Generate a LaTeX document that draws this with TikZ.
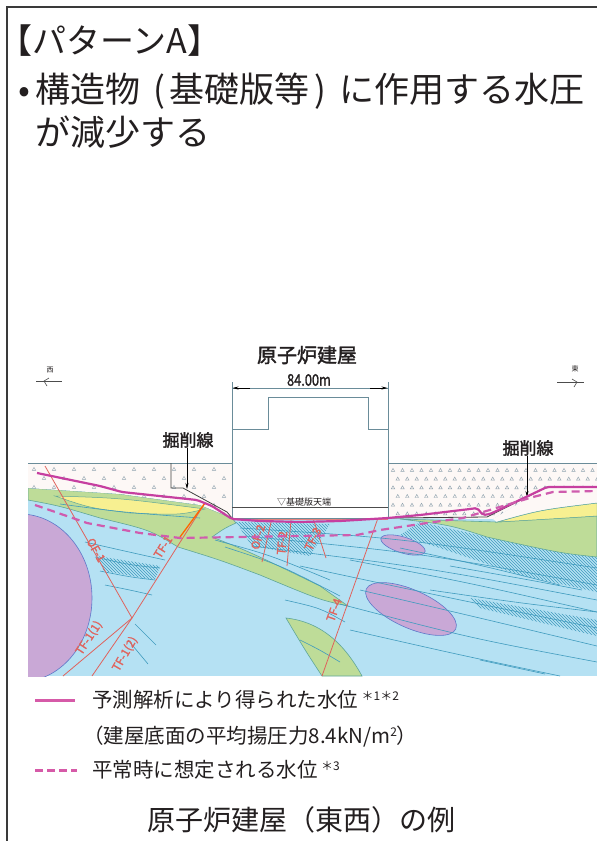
\documentclass[tikz,border=0pt]{standalone}
\usepackage{fontspec}
\usepackage{graphicx}
\setmainfont{Noto Sans CJK JP}
\newfontfamily\jpfont{Noto Sans CJK JP}
\newfontfamily\jpbold{Noto Sans CJK JP}[FakeBold=1.6]
\usetikzlibrary{patterns,arrows.meta}

\definecolor{ink}{HTML}{231F20}
\definecolor{framec}{HTML}{3A3A3A}
\definecolor{bluef}{HTML}{B5E1F3}
\definecolor{greenf}{HTML}{BEDC98}
\definecolor{yellowf}{HTML}{F7F091}
\definecolor{purplef}{HTML}{C9A8D6}
\definecolor{purplee}{HTML}{5E78C9}
\definecolor{fillf}{HTML}{FDF8F6}
\definecolor{tealc}{HTML}{3F9BBE}
\definecolor{layerc}{HTML}{5FA79A}
\definecolor{faultc}{HTML}{E0625C}
\definecolor{waterc}{HTML}{C63FA0}
\definecolor{legc}{HTML}{D65AA8}
\definecolor{bldc}{HTML}{6A8C99}
\definecolor{tric}{HTML}{8FA2AE}

% brackets used in the heading
\newcommand{\lpar}{\makebox[0.85em][r]{(\hspace{0.12em}}}
\newcommand{\rpar}{\makebox[0.85em][l]{\hspace{0.12em})}}

\tikzset{
  tri/.pic={\draw[tric,line width=0.45] (-1.7,1.4) -- (0,-1.6) -- (1.7,1.4) -- cycle;},
  bed/.style={tealc, line width=0.6},
  fault/.style={faultc, line width=0.8},
  flabel/.style={text=faultc, font=\jpbold\fontsize{11.5}{11.5}\selectfont, inner sep=0.5pt},
  water/.style={waterc, line width=2.2, line join=round},
  normalwater/.style={waterc!85, line width=2.2, dash pattern=on 8pt off 5pt},
  bld/.style={bldc, line width=0.8},
  exline/.style={black!75, line width=0.8},
  labeltxt/.style={text=ink, inner sep=0pt},
  legtxt/.style={text=ink, anchor=west, inner sep=0pt, font=\jpfont\fontsize{20.5}{24}\selectfont},
  supr/.style={},
  tip/.style={-{Stealth[length=6pt,width=3pt]}, black, line width=0.6}
}
\newcommand{\sups}[1]{\raisebox{7pt}{\fontsize{12}{12}\selectfont #1}}

\begin{document}
\begin{tikzpicture}[x=1pt,y=-1pt]
\useasboundingbox (0,0) rectangle (597,841);
\fill[white] (0,0) rectangle (597,841);

% outer frame
\draw[framec, line width=1.6] (7,841) -- (7,7) -- (597,7);

% heading
\node[labeltxt, anchor=west, font=\jpfont\fontsize{34}{40}\selectfont] (head) at (12,41)
  {\makebox[0.6em][r]{【}パターンA\makebox[0.6em][l]{】}};
\node[labeltxt, anchor=west, font=\jpfont\fontsize{35}{40}\selectfont] (head2) at (14,91)
  {\makebox[0.6em][c]{•}構造物\lpar 基礎版等\rpar に作用する水圧};
\node[labeltxt, anchor=west, font=\jpfont\fontsize{35}{40}\selectfont] (head3) at (35,132) {が減少する};

% ---------------- cross section ----------------
\begin{scope}
\clip (28,340) rectangle (597,676);

% base rock
\fill[bluef] (28,480) rectangle (597,676);

% hatched bands
\fill[pattern=north west lines, pattern color=tealc] (420,522) -- (487,537) -- (567,553) -- (597,557) -- (597,592) -- (520,575) -- (440,548) -- (400,535) -- cycle;
\fill[pattern=north west lines, pattern color=tealc] (470,598) -- (597,620) -- (597,636) -- (480,608) -- cycle;
\fill[pattern=north west lines, pattern color=tealc] (236,522) -- (330,524) -- (310,556) -- (252,546) -- cycle;
\fill[pattern=north west lines, pattern color=tealc] (97,556) -- (160,566) -- (155,580) -- (104,571) -- cycle;

% purple lenses
\draw[purplee, fill=purplef, line width=0.6] (20,598) ellipse (72 and 84);
\draw[purplee, fill=purplef, line width=0.6, rotate around={-17:(403,545)}] (403,545) ellipse (23 and 8);
\draw[purplee, fill=purplef, line width=0.6, rotate around={-24:(411,609)}] (411,609) ellipse (49 and 19);

% left green layer and the wedge running under the building
\draw[layerc, fill=greenf, line width=0.6] (28,488) -- (120,494) -- (200,505) -- (232,518) -- (236,523)
  .. controls (225,528) .. (212,537) .. controls (250,552) .. (320,586) -- (348,606)
  .. controls (320,600) .. (260,575) .. controls (220,560) .. (178,547)
  .. controls (150,530) .. (100,518) .. controls (60,506) .. (28,500) -- cycle;
% left yellow lens
\draw[layerc, fill=yellowf, line width=0.5] (55,496) .. controls (120,498) .. (205,509)
  .. controls (180,515) .. (130,513) .. controls (90,508) .. (55,496) -- cycle;
% lower green lens
\draw[layerc, fill=greenf, line width=0.6] (286,618) .. controls (322,622) and (345,645) .. (362,676)
  -- (322,676) .. controls (305,650) .. (286,618) -- cycle;
% right green layer
\draw[layerc, fill=greenf, line width=0.6] (400,519) -- (497,522) -- (597,516) -- (597,557)
  .. controls (560,553) .. (487,537) .. controls (450,525) .. (400,519) -- cycle;
% right yellow wedge
\draw[layerc, fill=yellowf, line width=0.5] (497,522) .. controls (540,510) .. (597,503) -- (597,516)
  .. controls (550,519) .. (497,522) -- cycle;

% bedding lines
\draw[bed] (240,528) .. controls (400,538) .. (597,568);
\draw[bed] (245,536) .. controls (420,553) .. (597,585);
\draw[bed] (252,546) .. controls (430,568) .. (597,600);
\draw[bed] (350,560) .. controls (470,583) .. (597,612);
\draw[bed] (300,566) .. controls (450,598) .. (597,628);
\draw[bed] (360,590) .. controls (480,618) .. (597,646);
\draw[bed] (340,604) .. controls (470,638) .. (597,662);
\draw[bed] (350,630) .. controls (460,655) .. (560,676);
\draw[bed] (430,590) .. controls (520,603) .. (597,612);
\draw[bed] (450,566) .. controls (530,580) .. (582,590);
\draw[bed] (480,660) -- (545,674);
\draw[bed] (400,548) .. controls (480,565) .. (560,585);
\draw[bed] (215,540) .. controls (270,555) .. (330,580);
\draw[bed] (225,547) .. controls (280,565) .. (340,596);
\draw[bed] (85,542) .. controls (120,550) .. (165,560);
\draw[bed] (95,557) .. controls (130,565) .. (160,568);
\draw[bed] (100,571) .. controls (130,577) .. (155,580);
\draw[bed] (105,585) .. controls (130,590) .. (152,595);
\draw[bed] (135,624) -- (156,645);
\draw[bed] (128,640) -- (148,664);
\draw[bed] (285,600) .. controls (320,608) .. (345,622);
\draw[bed] (300,640) .. controls (320,650) .. (340,662);
\draw[bed] (60,504) .. controls (120,512) .. (200,518);

% right backfill above the cut and the strip below it
\fill[fillf] (493,519) -- (547,486) -- (597,486) -- (597,503) .. controls (540,510) .. (497,522) -- cycle;
\draw[layerc, line width=0.5] (497,522) .. controls (540,510) .. (597,503);
\begin{scope}
  \clip (388,463) -- (597,463) -- (597,486) -- (547,486) -- (493,519) -- (388,518) -- cycle;
  \fill[fillf] (388,463) rectangle (597,520);
  \foreach \r in {0,...,5}{
    \foreach \c in {0,...,21}{
      \pic at ({393+9.5*\c+4.75*mod(\r,2)}, {470+8.7*\r}) {tri};
    }
  }
\end{scope}
% left backfill
\begin{scope}
  \clip (28,463) -- (232,463) -- (232,518) -- (200,505) -- (120,494) -- (28,488) -- cycle;
  \fill[fillf] (28,463) rectangle (232,520);
  \foreach \r in {0,...,5}{
    \foreach \c in {0,...,11}{
      \pic at ({34+20*\c+10*mod(\r,2)}, {469+9*\r}) {tri};
    }
  }
\end{scope}
\end{scope}

% faults
\draw[fault] (45,466) -- (132,618);
\draw[fault] (205,503) -- (132,618) -- (63,676);
\draw[fault] (132,618) -- (92,676);
\draw[orange!80!red, line width=1.3] (180,537) -- (205,503);
\draw[fault] (272,518) -- (262,562);
\draw[fault] (291,520) -- (287,566);
\draw[fault] (313,518) -- (326,558);
\draw[fault] (378,518) -- (322,676);
\node[flabel, rotate=-60] (of1) at (96,550) {OF-1};
\node[flabel, rotate=58] (tf1) at (163,547) {TF-1};
\node[flabel, rotate=57] (tf11) at (89,638) {TF-1(1)};
\node[flabel, rotate=60] (tf12) at (125,654) {TF-1(2)};
\node[flabel, rotate=75] (of2) at (258,537) {OF-2};
\node[flabel, rotate=85] (tf2) at (282,543) {TF-2};
\node[flabel, rotate=65] (tf3) at (313,539) {TF-3};
\node[flabel, rotate=70] (tf4) at (334,610) {TF-4};

% reactor building
\fill[white] (232,429) -- (268,429) -- (268,397) -- (368,397) -- (368,429) -- (388,429) -- (388,518) -- (232,518) -- cycle;
\draw[bld] (232,382) -- (232,518) -- (388,518) -- (388,382);
\draw[bld] (232,429) -- (268,429) -- (268,397) -- (368,397) -- (368,429) -- (388,429);
\draw[black!70, line width=0.7] (232,507) -- (388,507);
\draw[faultc!80, line width=0.5] (232,518.8) -- (388,518.8);
\node[labeltxt, font=\jpfont\fontsize{9}{9}\selectfont] (slab) at (304,502) {▽基礎版天端};

% dimension line
\draw[bld] (232,388) -- (388,388);
\draw[tip] (250,388) -- (232.5,388);
\draw[tip] (370,388) -- (387.5,388);
\node[labeltxt, font=\jpbold\fontsize{16}{16}\selectfont] (dim) at (309,380) {\scalebox{0.8}[1]{84.00m}};
\node[labeltxt, font=\jpbold\fontsize{20}{20}\selectfont] (bname) at (307,355) {原子炉建屋};

% ground surface and excavation lines
\draw[bld] (28,463) -- (232,463);
\draw[bld] (388,463) -- (597,463);
\draw[exline] (171,463) -- (171,488) -- (183,488) -- (227,512) -- (232,518);
\draw[exline] (388,518) -- (487,517) -- (547,487) -- (597,487);

% cut-line labels
\node[labeltxt, font=\jpbold\fontsize{17}{17}\selectfont] (cutL) at (188,440) {掘削線};
\node[labeltxt, font=\jpbold\fontsize{17}{17}\selectfont] (cutR) at (528,448) {掘削線};
\coordinate (cutLend) at (187,489);
\coordinate (cutRend) at (527,497);
\draw[tip] (cutL.south -| cutLend) -- (cutLend);
\draw[tip] (cutR.south -| cutRend) -- (cutRend);

% compass marks
\node[labeltxt, font=\jpfont\fontsize{7}{7}\selectfont] (west) at (50,370) {西};
\draw[black!70, line width=0.6] (36,381) -- (62,381);
\draw[black!70, line width=0.6] (49,378) -- (44,381) -- (47,386);
\node[labeltxt, font=\jpfont\fontsize{7}{7}\selectfont] (east) at (575,369) {東};
\draw[black!70, line width=0.6] (557,382) -- (584,382);
\draw[black!70, line width=0.6] (572,379) -- (577,382) -- (574,387);

% water levels
\draw[water, rounded corners=2pt] (37,473) -- (100,486) -- (122,492) -- (197,500) -- (212,506) -- (232,519)
  -- (260,521) -- (300,522) -- (340,521) -- (388,518) -- (420,515) -- (470,509) -- (477,508)
  -- (483,515) -- (490,514) -- (507,506) -- (547,487) -- (597,487);
\draw[normalwater] (35,505) -- (87,523) -- (140,533) -- (180,538) -- (357,535) -- (380,530)
  -- (427,523) -- (463,518) -- (533,497) -- (553,492) -- (597,491);

% legend
\draw[legc, line width=3] (35,700) -- (75,700);
\node[legtxt] (leg1) at (92,700) {予測解析により得られた水位\,\sups{＊1＊2}};
\node[legtxt] (leg1b) at (83,737) {（建屋底面の平均揚圧力8.4kN/m\sups{2}）};
\draw[legc, line width=3, dash pattern=on 8pt off 4pt] (35,770) -- (77,770);
\node[legtxt] (leg2) at (92,770) {平常時に想定される水位\,\sups{＊3}};

% caption
\node[labeltxt, font=\jpfont\fontsize{28}{28}\selectfont] (cap) at (301,820) {原子炉建屋（東西）の例};
\end{tikzpicture}
\end{document}
